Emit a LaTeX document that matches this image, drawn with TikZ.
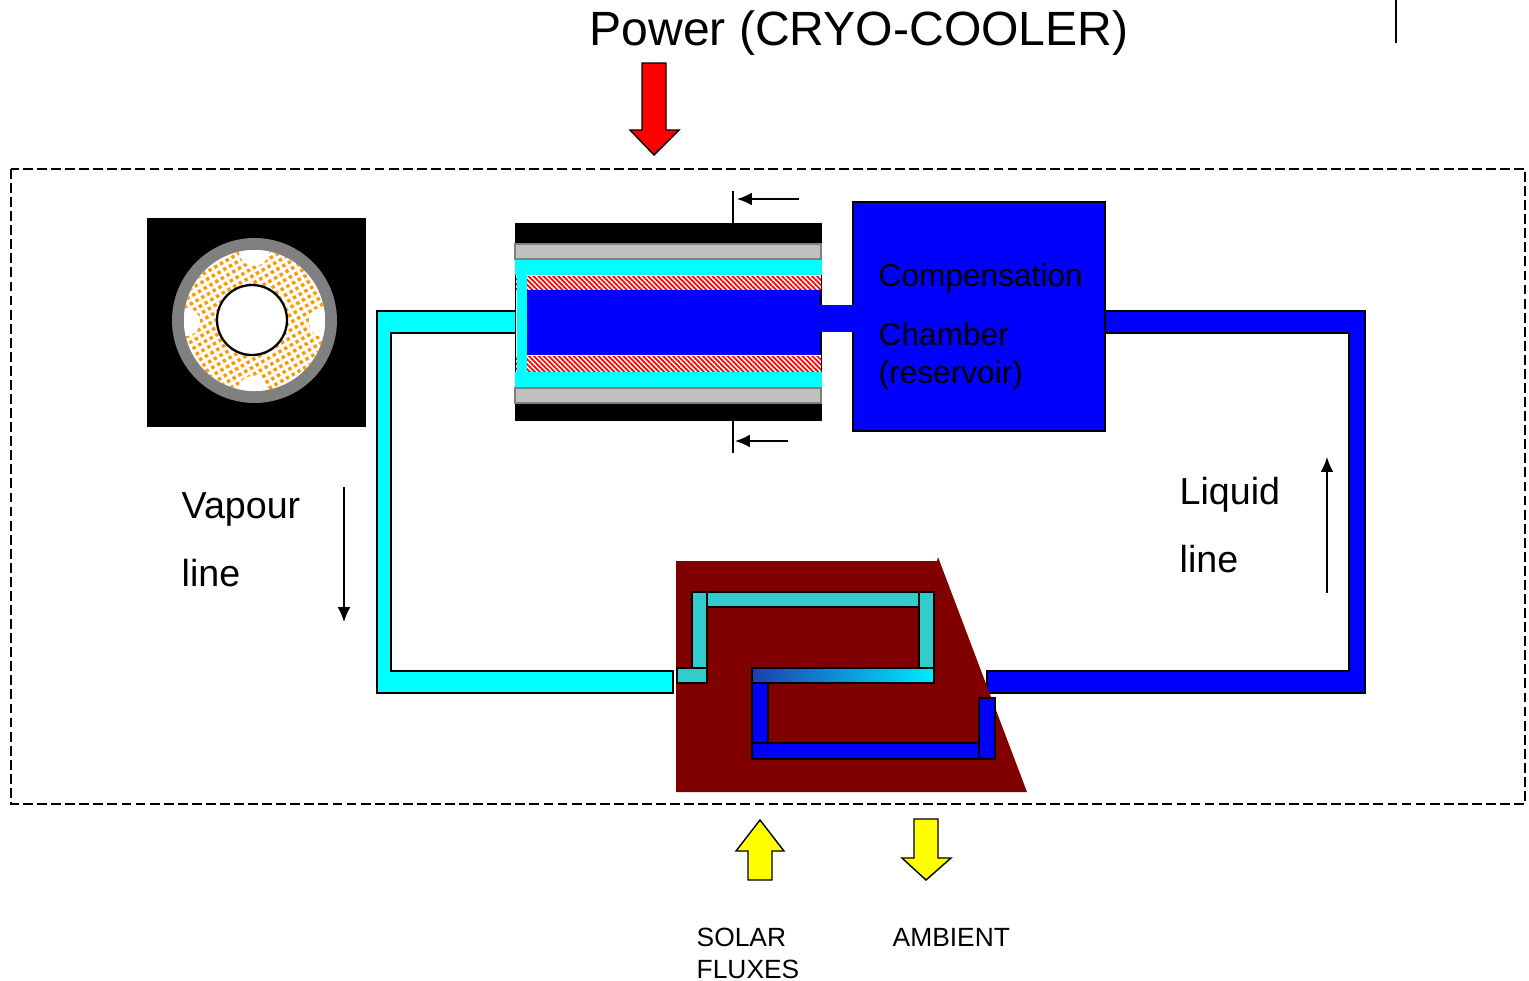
\documentclass[tikz,border=0pt]{standalone}
\usepackage{fontspec}
\setmainfont{Liberation Sans}
\usepackage{tikz}
\usetikzlibrary{arrows.meta,patterns.meta}
\definecolor{maroonpanel}{HTML}{800000}
\definecolor{tealpipe}{HTML}{33CCCC}
\definecolor{greywall}{HTML}{BFBFBF}
\definecolor{greyring}{HTML}{808080}
\definecolor{orangedot}{HTML}{FF9900}
\definecolor{gradstart}{HTML}{1C3FB0}
\definecolor{vapourcyan}{HTML}{00FFFF}
\definecolor{liquidblue}{HTML}{0000FF}
\definecolor{powerred}{HTML}{FF0000}
\definecolor{fluxyellow}{HTML}{FFFF00}
\tikzset{
	pipeline/.style={draw=black,line width=0.5pt},
	tubeline/.style={draw=black,line width=0.55pt},
	blockarrow/.style={draw=black,line width=0.4pt},
	flowarrow/.style={-{Latex[length=4.2pt,width=3.6pt]},line width=0.45pt},
	stripes/.style={pattern={Lines[angle=-45,distance=1pt,line width=0.5pt]},pattern color=powerred},
	label/.style={anchor=west,inner sep=0pt,font=\fontsize{10.7}{12}\selectfont},
	smalllabel/.style={anchor=west,inner sep=0pt,font=\fontsize{7.5}{9}\selectfont},
	chamberlabel/.style={anchor=west,inner sep=0pt,font=\fontsize{9}{11}\selectfont},
}
\begin{document}
\begin{tikzpicture}[x=0.01cm,y=-0.01cm]
	\useasboundingbox (0,0) rectangle (1529,981);
	\fill[white] (0,0) rectangle (1529,981);

	\node[inner sep=0pt,font=\fontsize{13.67}{16}\selectfont] (power) at (859,33) {Power (CRYO-COOLER)};
	\draw[line width=0.4pt] (1396,0) -- (1396,43);
	\draw[blockarrow,fill=powerred] (642,63) -- (666,63) -- (666,130) -- (679,130) -- (654,155) -- (630,130) -- (642,130) -- cycle;
	\draw[line width=0.55pt,dash pattern=on 2.8pt off 1.2pt] (11,169) rectangle (1525,804);

	\fill[black] (147,218) rectangle (366,427);
	\fill[greyring] (254.5,320.5) circle (82.5);
	\fill[white] (254.5,320.5) circle (70.5);
	\begin{scope}
		\clip (254.5,320.5) circle (70.5);
		\begin{scope}[shift={(254.5,320.5)},rotate=30]
			\foreach \i in {-12,...,12}
				\foreach \j in {-12,...,12}
					\fill[orangedot] (\i*6.6-1.7,\j*6.6-1.7) rectangle +(3.4,3.4);
		\end{scope}
		\fill[white] (254,251) circle (15);
		\fill[white] (253,391) circle (15);
		\fill[white] (186,322) circle (14);
		\fill[white] (324,322) circle (15);
	\end{scope}
	\draw[line width=0.65pt,fill=white] (252,320) circle (35);

	\draw[pipeline,fill=vapourcyan] (515,311) -- (377,311) -- (377,693) -- (673,693) -- (673,671) -- (391,671) -- (391,333) -- (515,333);
	\draw[pipeline,fill=liquidblue] (1105,311) -- (1365,311) -- (1365,693) -- (987,693) -- (987,671) -- (1349,671) -- (1349,333) -- (1105,333);

	\fill[black] (515,223) rectangle (822,421);
	\draw[draw=greyring,line width=0.4pt,fill=greywall] (515,244) rectangle (821,259);
	\draw[draw=greyring,line width=0.4pt,fill=greywall] (515,388) rectangle (821,403);
	\fill[white] (516,275) rectangle (821,372);
	\fill[stripes] (516,276) rectangle (821,289);
	\fill[stripes] (516,356) rectangle (821,372);
	\fill[liquidblue] (527,290) rectangle (820,355);
	\fill[vapourcyan] (515,260) rectangle (822,275);
	\fill[vapourcyan] (515,372) rectangle (822,387);
	\fill[vapourcyan] (517,275) rectangle (527,372);
	\fill[black] (820,290) rectangle (822,305);
	\fill[black] (820,332) rectangle (822,355);

	\draw[line width=0.6pt,fill=liquidblue] (853,202) rectangle (1105,431);
	\fill[liquidblue] (820,305) rectangle (856,332);
	\node[chamberlabel] (compensation) at (878,278) {Compensation};
	\node[chamberlabel] (chamber) at (878,334) {Chamber};
	\node[chamberlabel] (reservoir) at (878,375) {(reservoir)};

	\coordinate (sectiontop) at (733,191);
	\coordinate (sectiontopend) at (733,223);
	\coordinate (sectionbottom) at (733,421);
	\coordinate (sectionbottomend) at (733,453);
	\coordinate (cuttopstart) at (799,199);
	\coordinate (cuttopend) at (737,199);
	\coordinate (cutbottomstart) at (788,441);
	\coordinate (cutbottomend) at (735,441);
	\draw[line width=0.4pt] (sectiontop) -- (sectiontopend);
	\draw[line width=0.4pt] (sectionbottom) -- (sectionbottomend);
	\draw[flowarrow] (cuttopstart) -- (cuttopend);
	\draw[flowarrow] (cutbottomstart) -- (cutbottomend);

	\node[label] (vapour) at (181,509) {Vapour};
	\node[label] (vapourline) at (181,573) {line};
	\coordinate (vapourstart) at (344,487);
	\coordinate (vapourend) at (344,622);
	\draw[flowarrow] (vapourstart) -- (vapourend);

	\node[label] (liquid) at (1179,495) {Liquid};
	\node[label] (liquidline) at (1179,559) {line};
	\coordinate (liquidstart) at (1327,593);
	\coordinate (liquidend) at (1327,457);
	\draw[flowarrow] (liquidstart) -- (liquidend);

	\fill[maroonpanel] (676,561) -- (937,561) -- (938,557) -- (1027,792) -- (676,792) -- cycle;
	\draw[tubeline,fill=tealpipe] (692,592) rectangle (707,668);
	\draw[tubeline,fill=tealpipe] (707,592) rectangle (919,607);
	\draw[tubeline,fill=tealpipe] (919,592) rectangle (934,668);
	\draw[tubeline,fill=tealpipe] (677,668) rectangle (707,683);
	\draw[tubeline,left color=gradstart,right color=vapourcyan!92!blue] (752,668) rectangle (934,683);
	\draw[tubeline,fill=liquidblue] (752,683) rectangle (768,743);
	\draw[tubeline,fill=liquidblue] (752,743) rectangle (979,759);
	\draw[tubeline,fill=liquidblue] (979,698) rectangle (995,759);

	\draw[blockarrow,fill=fluxyellow] (748,880) -- (772,880) -- (772,851) -- (784,851) -- (760,820) -- (736,851) -- (748,851) -- cycle;
	\draw[blockarrow,fill=fluxyellow] (914,819) -- (938,819) -- (938,858) -- (951,858) -- (926,880) -- (902,858) -- (914,858) -- cycle;

	\node[smalllabel] (solar) at (696,937) {SOLAR};
	\node[smalllabel] (fluxes) at (696,969) {FLUXES};
	\node[smalllabel] (ambient) at (892,937) {AMBIENT};
\end{tikzpicture}
\end{document}
